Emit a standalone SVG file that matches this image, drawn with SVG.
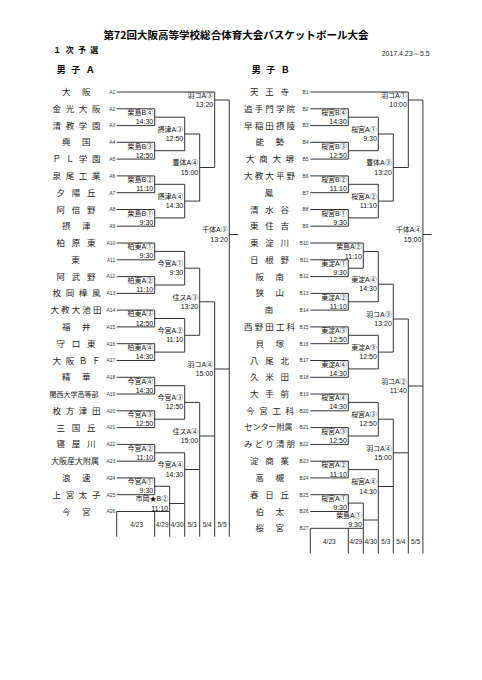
<svg xmlns="http://www.w3.org/2000/svg" width="482" height="680" viewBox="0 0 482 680">
<style>
.bg{fill:#fff}
.ln{fill:none;stroke:#333;stroke-width:1}
.tl{font-family:"Noto Sans CJK JP",sans-serif;font-weight:bold;fill:#000}
.nm{font-family:"Noto Sans CJK JP",sans-serif;font-size:8.5px;fill:#222}
.nmc{font-family:"Noto Sans CJK JP",sans-serif;font-size:8.5px;fill:#222;text-anchor:middle}
.no{font-family:"Liberation Sans",sans-serif;font-size:5px;fill:#333;text-anchor:end}
.lb{font-family:"Liberation Sans","Noto Sans CJK JP",sans-serif;font-size:7px;fill:#111;text-anchor:end}
.dt{font-family:"Liberation Sans",sans-serif;font-size:6.5px;fill:#222;text-anchor:middle}
.sm{font-family:"Liberation Sans",sans-serif;font-size:6.5px;fill:#222}
</style>
<rect class="bg" x="0" y="0" width="482" height="680"/>
<g id="header">
<text class="tl" x="236" y="38.8" style="font-size:10.5px" text-anchor="middle" textLength="265" lengthAdjust="spacingAndGlyphs">第72回大阪高等学校総合体育大会バスケットボール大会</text>
<text class="tl" x="53.3" y="53" style="font-size:8px" textLength="45" lengthAdjust="spacing">１次予選</text>
<text class="sm" x="381.7" y="55.6" textLength="48" lengthAdjust="spacingAndGlyphs">2017.4.23～5.5</text>
<text class="tl" x="56.7" y="73.2" style="font-size:9px" textLength="38" lengthAdjust="spacing">男子Ａ</text>
<text class="tl" x="251.7" y="73.2" style="font-size:9px" textLength="38" lengthAdjust="spacing">男子Ｂ</text>
</g>
<g id="connectors">
<path class="ln" d="M116.7 92 H214.7 M116.7 108.8 H154.7 M116.7 125.6 H154.7 M116.7 142.3 H154.7 M116.7 159.1 H154.7 M116.7 175.9 H154.7 M116.7 192.7 H154.7 M116.7 209.5 H154.7 M116.7 226.2 H154.7 M116.7 243 H154.7 M116.7 259.8 H154.7 M116.7 276.6 H154.7 M116.7 293.4 H154.7 M116.7 310.1 H154.7 M116.7 326.9 H154.7 M116.7 343.7 H154.7 M116.7 360.5 H154.7 M116.7 377.3 H154.7 M116.7 394 H154.7 M116.7 410.8 H154.7 M116.7 427.6 H154.7 M116.7 444.4 H154.7 M116.7 461.2 H154.7 M116.7 477.9 H154.7 M116.7 494.7 H154.7 M116.7 511.5 H169.7"/>
<path class="ln" d="M154.7 108.8 V125.6 M154.7 117.2 H184.7 M154.7 142.3 V159.1 M154.7 150.7 H184.7 M154.7 175.9 V192.7 M154.7 184.3 H184.7 M154.7 209.5 V226.2 M154.7 217.9 H184.7 M154.7 243 V259.8 M154.7 251.4 H184.7 M154.7 276.6 V293.4 M154.7 285 H184.7 M154.7 310.1 V326.9 M154.7 318.5 H184.7 M154.7 343.7 V360.5 M154.7 352.1 H184.7 M154.7 377.3 V394 M154.7 385.7 H184.7 M154.7 410.8 V427.6 M154.7 419.2 H184.7 M154.7 444.4 V461.2 M154.7 452.8 H184.7 M154.7 477.9 V494.7 M154.7 486.3 H169.7"/>
<path class="ln" d="M169.7 486.3 V511.5 M169.7 503.5 H184.7"/>
<path class="ln" d="M184.7 117.2 V150.7 M184.7 134 H199.7 M184.7 184.3 V217.9 M184.7 201.1 H199.7 M184.7 251.4 V285 M184.7 268.2 H199.7 M184.7 318.5 V352.1 M184.7 335.3 H199.7 M184.7 385.7 V419.2 M184.7 402.4 H199.7 M184.7 452.8 V503.5 M184.7 469.5 H199.7"/>
<path class="ln" d="M199.7 134 V201.1 M199.7 167.5 H214.7 M199.7 268.2 V335.3 M199.7 301.8 H214.7 M199.7 402.4 V469.5 M199.7 436 H214.7"/>
<path class="ln" d="M214.7 92 V167.5 M214.7 100 H229.3 M214.7 301.8 V436 M214.7 369 H229.3"/>
<path class="ln" d="M229.3 100 V369 M229.3 234.5 H238"/>
<path class="ln" d="M116.7 511.5 V536.7 M154.7 511.5 V536.7 M169.7 511.5 V536.7 M184.7 503.5 V536.7 M199.7 469.5 V536.7 M214.7 436 V536.7 M229.3 369 V536.7"/>
<path class="ln" d="M310.3 92 H408.3 M310.3 108.8 H348.3 M310.3 125.6 H348.3 M310.3 142.3 H348.3 M310.3 159.1 H348.3 M310.3 175.9 H348.3 M310.3 192.7 H348.3 M310.3 209.5 H348.3 M310.3 226.2 H348.3 M310.3 243 H363.3 M310.3 259.8 H348.3 M310.3 276.6 H348.3 M310.3 293.4 H348.3 M310.3 310.1 H348.3 M310.3 326.9 H348.3 M310.3 343.7 H348.3 M310.3 360.5 H348.3 M310.3 377.3 H348.3 M310.3 394 H348.3 M310.3 410.8 H348.3 M310.3 427.6 H348.3 M310.3 444.4 H348.3 M310.3 461.2 H348.3 M310.3 477.9 H348.3 M310.3 494.7 H348.3 M310.3 511.5 H348.3 M310.3 528.3 H363.3"/>
<path class="ln" d="M348.3 108.8 V125.6 M348.3 117.2 H378.3 M348.3 142.3 V159.1 M348.3 150.7 H378.3 M348.3 175.9 V192.7 M348.3 184.3 H378.3 M348.3 209.5 V226.2 M348.3 217.9 H378.3 M348.3 259.8 V276.6 M348.3 268.2 H363.3 M348.3 293.4 V310.1 M348.3 301.8 H378.3 M348.3 326.9 V343.7 M348.3 335.3 H378.3 M348.3 360.5 V377.3 M348.3 368.9 H378.3 M348.3 394 V410.8 M348.3 402.4 H378.3 M348.3 427.6 V444.4 M348.3 436 H378.3 M348.3 461.2 V477.9 M348.3 469.6 H378.3 M348.3 494.7 V511.5 M348.3 503.1 H363.3"/>
<path class="ln" d="M363.3 243 V268.2 M363.3 251.5 H378.3 M363.3 503.1 V528.3 M363.3 520 H378.3"/>
<path class="ln" d="M378.3 117.2 V150.7 M378.3 134 H393.3 M378.3 184.3 V217.9 M378.3 201.1 H393.3 M378.3 251.5 V301.8 M378.3 284.2 H393.3 M378.3 335.3 V368.9 M378.3 352.1 H393.3 M378.3 402.4 V436 M378.3 419.2 H393.3 M378.3 469.6 V520 M378.3 486.5 H393.3"/>
<path class="ln" d="M393.3 134 V201.1 M393.3 167.5 H408.3 M393.3 284.2 V352.1 M393.3 319 H408.3 M393.3 419.2 V486.5 M393.3 452.8 H408.3"/>
<path class="ln" d="M408.3 92 V167.5 M408.3 100 H422.9 M408.3 319 V452.8 M408.3 386 H422.9"/>
<path class="ln" d="M422.9 100 V386 M422.9 234.5 H431.7"/>
<path class="ln" d="M310.3 528.3 V553.5 M348.3 528.3 V553.5 M363.3 528.3 V553.5 M378.3 520 V553.5 M393.3 486.5 V553.5 M408.3 452.8 V553.5 M422.9 386 V553.5"/>
</g>
<g id="dates">
<text class="dt" x="136.7" y="526.6">4/23</text>
<text class="dt" x="162.2" y="526.6">4/29</text>
<text class="dt" x="177.2" y="526.6">4/30</text>
<text class="dt" x="192.2" y="526.6">5/3</text>
<text class="dt" x="207.2" y="526.6">5/4</text>
<text class="dt" x="222" y="526.6">5/5</text>
<text class="dt" x="329.3" y="543.8">4/23</text>
<text class="dt" x="355.8" y="543.8">4/29</text>
<text class="dt" x="370.8" y="543.8">4/30</text>
<text class="dt" x="385.8" y="543.8">5/3</text>
<text class="dt" x="400.8" y="543.8">5/4</text>
<text class="dt" x="415.6" y="543.8">5/5</text>
</g>
<g id="A1"><text class="no" x="115.3" y="93.8">A1</text><text class="nm" x="62" y="95" textLength="28.5" lengthAdjust="spacing">大阪</text></g>
<g id="A2"><text class="no" x="115.3" y="110.6">A2</text><text class="nm" x="52.5" y="111.8" textLength="48" lengthAdjust="spacing">金光大阪</text></g>
<g id="A3"><text class="no" x="115.3" y="127.4">A3</text><text class="nm" x="52.5" y="128.6" textLength="48" lengthAdjust="spacing">清教学園</text></g>
<g id="A4"><text class="no" x="115.3" y="144.1">A4</text><text class="nm" x="62" y="145.3" textLength="28.5" lengthAdjust="spacing">興国</text></g>
<g id="A5"><text class="no" x="115.3" y="160.9">A5</text><text class="nm" x="52.5" y="162.1" textLength="48" lengthAdjust="spacing">ＰＬ学園</text></g>
<g id="A6"><text class="no" x="115.3" y="177.7">A6</text><text class="nm" x="52.5" y="178.9" textLength="48" lengthAdjust="spacing">泉尾工業</text></g>
<g id="A7"><text class="no" x="115.3" y="194.5">A7</text><text class="nm" x="56.5" y="195.7" textLength="39" lengthAdjust="spacing">夕陽丘</text></g>
<g id="A8"><text class="no" x="115.3" y="211.3">A8</text><text class="nm" x="56.5" y="212.5" textLength="39" lengthAdjust="spacing">阿倍野</text></g>
<g id="A9"><text class="no" x="115.3" y="228">A9</text><text class="nm" x="62" y="229.2" textLength="28.5" lengthAdjust="spacing">摂津</text></g>
<g id="A10"><text class="no" x="115.3" y="244.8">A10</text><text class="nm" x="56.5" y="246" textLength="39" lengthAdjust="spacing">柏原東</text></g>
<g id="A11"><text class="no" x="115.3" y="261.6">A11</text><text class="nmc" x="75.5" y="262.8">東</text></g>
<g id="A12"><text class="no" x="115.3" y="278.4">A12</text><text class="nm" x="56.5" y="279.6" textLength="39" lengthAdjust="spacing">阿武野</text></g>
<g id="A13"><text class="no" x="115.3" y="295.2">A13</text><text class="nm" x="52.5" y="296.4" textLength="48" lengthAdjust="spacing">枚岡樟風</text></g>
<g id="A14"><text class="no" x="115.3" y="311.9">A14</text><text class="nm" x="50.5" y="313.1" textLength="51" lengthAdjust="spacing">大教大池田</text></g>
<g id="A15"><text class="no" x="115.3" y="328.7">A15</text><text class="nm" x="62" y="329.9" textLength="28.5" lengthAdjust="spacing">福井</text></g>
<g id="A16"><text class="no" x="115.3" y="345.5">A16</text><text class="nm" x="56.5" y="346.7" textLength="39" lengthAdjust="spacing">守口東</text></g>
<g id="A17"><text class="no" x="115.3" y="362.3">A17</text><text class="nm" x="52.5" y="363.5" textLength="48" lengthAdjust="spacing">大阪ＢＦ</text></g>
<g id="A18"><text class="no" x="115.3" y="379.1">A18</text><text class="nm" x="62" y="380.3" textLength="28.5" lengthAdjust="spacing">精華</text></g>
<g id="A19"><text class="no" x="115.3" y="395.8">A19</text><text class="nm" x="49.5" y="396.6" style="font-size:7px" textLength="49" lengthAdjust="spacingAndGlyphs">関西大学高等部</text></g>
<g id="A20"><text class="no" x="115.3" y="412.6">A20</text><text class="nm" x="52.5" y="413.8" textLength="48" lengthAdjust="spacing">枚方津田</text></g>
<g id="A21"><text class="no" x="115.3" y="429.4">A21</text><text class="nm" x="56.5" y="430.6" textLength="39" lengthAdjust="spacing">三国丘</text></g>
<g id="A22"><text class="no" x="115.3" y="446.2">A22</text><text class="nm" x="56.5" y="447.4" textLength="39" lengthAdjust="spacing">寝屋川</text></g>
<g id="A23"><text class="no" x="115.3" y="463">A23</text><text class="nm" x="51" y="464" style="font-size:8px" textLength="48" lengthAdjust="spacingAndGlyphs">大阪産大附属</text></g>
<g id="A24"><text class="no" x="115.3" y="479.7">A24</text><text class="nm" x="62" y="480.9" textLength="28.5" lengthAdjust="spacing">浪速</text></g>
<g id="A25"><text class="no" x="115.3" y="496.5">A25</text><text class="nm" x="52.5" y="497.7" textLength="48" lengthAdjust="spacing">上宮太子</text></g>
<g id="A26"><text class="no" x="115.3" y="513.3">A26</text><text class="nm" x="62" y="514.5" textLength="28.5" lengthAdjust="spacing">今宮</text></g>
<g id="B1"><text class="no" x="308.5" y="93.8">B1</text><text class="nm" x="250.1" y="95" textLength="39" lengthAdjust="spacing">天王寺</text></g>
<g id="B2"><text class="no" x="308.5" y="110.6">B2</text><text class="nm" x="244.1" y="111.8" textLength="51" lengthAdjust="spacing">追手門学院</text></g>
<g id="B3"><text class="no" x="308.5" y="127.4">B3</text><text class="nm" x="244.1" y="128.6" textLength="51" lengthAdjust="spacing">早稲田摂陵</text></g>
<g id="B4"><text class="no" x="308.5" y="144.1">B4</text><text class="nm" x="255.6" y="145.3" textLength="28.5" lengthAdjust="spacing">能勢</text></g>
<g id="B5"><text class="no" x="308.5" y="160.9">B5</text><text class="nm" x="246.1" y="162.1" textLength="48" lengthAdjust="spacing">大商大堺</text></g>
<g id="B6"><text class="no" x="308.5" y="177.7">B6</text><text class="nm" x="244.1" y="178.9" textLength="51" lengthAdjust="spacing">大教大平野</text></g>
<g id="B7"><text class="no" x="308.5" y="194.5">B7</text><text class="nmc" x="269.1" y="195.7">鳳</text></g>
<g id="B8"><text class="no" x="308.5" y="211.3">B8</text><text class="nm" x="250.1" y="212.5" textLength="39" lengthAdjust="spacing">清水谷</text></g>
<g id="B9"><text class="no" x="308.5" y="228">B9</text><text class="nm" x="250.1" y="229.2" textLength="39" lengthAdjust="spacing">東住吉</text></g>
<g id="B10"><text class="no" x="308.5" y="244.8">B10</text><text class="nm" x="250.1" y="246" textLength="39" lengthAdjust="spacing">東淀川</text></g>
<g id="B11"><text class="no" x="308.5" y="261.6">B11</text><text class="nm" x="250.1" y="262.8" textLength="39" lengthAdjust="spacing">日根野</text></g>
<g id="B12"><text class="no" x="308.5" y="278.4">B12</text><text class="nm" x="255.6" y="279.6" textLength="28.5" lengthAdjust="spacing">阪南</text></g>
<g id="B13"><text class="no" x="308.5" y="295.2">B13</text><text class="nm" x="255.6" y="296.4" textLength="28.5" lengthAdjust="spacing">狭山</text></g>
<g id="B14"><text class="no" x="308.5" y="311.9">B14</text><text class="nmc" x="269.1" y="313.1">南</text></g>
<g id="B15"><text class="no" x="308.5" y="328.7">B15</text><text class="nm" x="244.1" y="329.9" textLength="51" lengthAdjust="spacing">西野田工科</text></g>
<g id="B16"><text class="no" x="308.5" y="345.5">B16</text><text class="nm" x="255.6" y="346.7" textLength="28.5" lengthAdjust="spacing">貝塚</text></g>
<g id="B17"><text class="no" x="308.5" y="362.3">B17</text><text class="nm" x="250.1" y="363.5" textLength="39" lengthAdjust="spacing">八尾北</text></g>
<g id="B18"><text class="no" x="308.5" y="379.1">B18</text><text class="nm" x="250.1" y="380.3" textLength="39" lengthAdjust="spacing">久米田</text></g>
<g id="B19"><text class="no" x="308.5" y="395.8">B19</text><text class="nm" x="250.1" y="397" textLength="39" lengthAdjust="spacing">大手前</text></g>
<g id="B20"><text class="no" x="308.5" y="412.6">B20</text><text class="nm" x="246.1" y="413.8" textLength="48" lengthAdjust="spacing">今宮工科</text></g>
<g id="B21"><text class="no" x="308.5" y="429.4">B21</text><text class="nm" x="244.6" y="430.4" style="font-size:8px" textLength="48" lengthAdjust="spacingAndGlyphs">センター附属</text></g>
<g id="B22"><text class="no" x="308.5" y="446.2">B22</text><text class="nm" x="244.1" y="447.4" textLength="51" lengthAdjust="spacing">みどり清朋</text></g>
<g id="B23"><text class="no" x="308.5" y="463">B23</text><text class="nm" x="250.1" y="464.2" textLength="39" lengthAdjust="spacing">淀商業</text></g>
<g id="B24"><text class="no" x="308.5" y="479.7">B24</text><text class="nm" x="255.6" y="480.9" textLength="28.5" lengthAdjust="spacing">高槻</text></g>
<g id="B25"><text class="no" x="308.5" y="496.5">B25</text><text class="nm" x="250.1" y="497.7" textLength="39" lengthAdjust="spacing">春日丘</text></g>
<g id="B26"><text class="no" x="308.5" y="513.3">B26</text><text class="nm" x="255.6" y="514.5" textLength="28.5" lengthAdjust="spacing">伯太</text></g>
<g id="B27"><text class="no" x="308.5" y="530.1">B27</text><text class="nm" x="255.6" y="531.3" textLength="28.5" lengthAdjust="spacing">桜宮</text></g>
<g id="LA2A3"><text class="lb" x="153.2" y="115">柴島B④</text><text class="lb" x="153.2" y="124.2">14:30</text></g>
<g id="LA4A5"><text class="lb" x="153.2" y="148.5">柴島B③</text><text class="lb" x="153.2" y="157.7">12:50</text></g>
<g id="LA6A7"><text class="lb" x="153.2" y="182.1">柴島B②</text><text class="lb" x="153.2" y="191.3">11:10</text></g>
<g id="LA8A9"><text class="lb" x="153.2" y="215.7">柴島B①</text><text class="lb" x="153.2" y="224.9">9:30</text></g>
<g id="LA10A11"><text class="lb" x="153.2" y="249.2">柏東A①</text><text class="lb" x="153.2" y="258.4">9:30</text></g>
<g id="LA12A13"><text class="lb" x="153.2" y="282.8">柏東A②</text><text class="lb" x="153.2" y="292">11:10</text></g>
<g id="LA14A15"><text class="lb" x="153.2" y="316.3">柏東A③</text><text class="lb" x="153.2" y="325.5">12:50</text></g>
<g id="LA16A17"><text class="lb" x="153.2" y="349.9">柏東A④</text><text class="lb" x="153.2" y="359.1">14:30</text></g>
<g id="LA18A19"><text class="lb" x="153.2" y="383.5">今宮A④</text><text class="lb" x="153.2" y="392.7">14:30</text></g>
<g id="LA20A21"><text class="lb" x="153.2" y="417">今宮A③</text><text class="lb" x="153.2" y="426.2">12:50</text></g>
<g id="LA22A23"><text class="lb" x="153.2" y="450.6">今宮A②</text><text class="lb" x="153.2" y="459.8">11:10</text></g>
<g id="LA24A25"><text class="lb" x="153.2" y="484.1">今宮A①</text><text class="lb" x="153.2" y="493.3">9:30</text></g>
<g id="LA26"><text class="lb" x="168.2" y="501.3">市岡★B②</text><text class="lb" x="168.2" y="510.5">11:10</text></g>
<g id="LQ1"><text class="lb" x="183.2" y="131.8">摂津A③</text><text class="lb" x="183.2" y="141">12:50</text></g>
<g id="LQ2"><text class="lb" x="183.2" y="198.9">摂津A④</text><text class="lb" x="183.2" y="208.1">14:30</text></g>
<g id="LQ3"><text class="lb" x="183.2" y="266">今宮A①</text><text class="lb" x="183.2" y="275.2">9:30</text></g>
<g id="LQ4"><text class="lb" x="183.2" y="333.1">今宮A②</text><text class="lb" x="183.2" y="342.3">11:10</text></g>
<g id="LQ5"><text class="lb" x="183.2" y="400.2">今宮A③</text><text class="lb" x="183.2" y="409.4">12:50</text></g>
<g id="LQ6"><text class="lb" x="183.2" y="467.3">今宮A④</text><text class="lb" x="183.2" y="476.5">14:30</text></g>
<g id="LS1"><text class="lb" x="198.2" y="165.3">豊体A④</text><text class="lb" x="198.2" y="174.5">15:00</text></g>
<g id="LS2"><text class="lb" x="198.2" y="299.6">住スA③</text><text class="lb" x="198.2" y="308.8">13:20</text></g>
<g id="LS3"><text class="lb" x="198.2" y="433.8">住スA④</text><text class="lb" x="198.2" y="443">15:00</text></g>
<g id="LF1"><text class="lb" x="213.2" y="97.8">羽コA③</text><text class="lb" x="213.2" y="107">13:20</text></g>
<g id="LF2"><text class="lb" x="213.2" y="366.8">羽コA④</text><text class="lb" x="213.2" y="376">15:00</text></g>
<g id="LW"><text class="lb" x="227.8" y="232.3">千体A③</text><text class="lb" x="227.8" y="241.5">13:20</text></g>
<g id="RB2B3"><text class="lb" x="346.8" y="115">桜宮B④</text><text class="lb" x="346.8" y="124.2">14:30</text></g>
<g id="RB4B5"><text class="lb" x="346.8" y="148.5">桜宮B③</text><text class="lb" x="346.8" y="157.7">12:50</text></g>
<g id="RB6B7"><text class="lb" x="346.8" y="182.1">桜宮B②</text><text class="lb" x="346.8" y="191.3">11:10</text></g>
<g id="RB8B9"><text class="lb" x="346.8" y="215.7">桜宮B①</text><text class="lb" x="346.8" y="224.9">9:30</text></g>
<g id="RB11B12"><text class="lb" x="346.8" y="266">東淀A①</text><text class="lb" x="346.8" y="275.2">9:30</text></g>
<g id="RB13B14"><text class="lb" x="346.8" y="299.6">東淀A②</text><text class="lb" x="346.8" y="308.8">11:10</text></g>
<g id="RB15B16"><text class="lb" x="346.8" y="333.1">東淀A③</text><text class="lb" x="346.8" y="342.3">12:50</text></g>
<g id="RB17B18"><text class="lb" x="346.8" y="366.7">東淀A④</text><text class="lb" x="346.8" y="375.9">14:30</text></g>
<g id="RB19B20"><text class="lb" x="346.8" y="400.2">桜宮A④</text><text class="lb" x="346.8" y="409.4">14:30</text></g>
<g id="RB21B22"><text class="lb" x="346.8" y="433.8">桜宮A③</text><text class="lb" x="346.8" y="443">12:50</text></g>
<g id="RB23B24"><text class="lb" x="346.8" y="467.4">桜宮A②</text><text class="lb" x="346.8" y="476.6">11:10</text></g>
<g id="RB25B26"><text class="lb" x="346.8" y="500.9">桜宮A①</text><text class="lb" x="346.8" y="510.1">9:30</text></g>
<g id="RB10"><text class="lb" x="361.8" y="249.3">柴島A②</text><text class="lb" x="361.8" y="258.5">11:10</text></g>
<g id="RB27"><text class="lb" x="361.8" y="517.8">柴島A①</text><text class="lb" x="361.8" y="527">9:30</text></g>
<g id="RQ1"><text class="lb" x="376.8" y="131.8">桜宮A①</text><text class="lb" x="376.8" y="141">9:30</text></g>
<g id="RQ2"><text class="lb" x="376.8" y="198.9">桜宮A②</text><text class="lb" x="376.8" y="208.1">11:10</text></g>
<g id="RQ3"><text class="lb" x="376.8" y="282">東淀A④</text><text class="lb" x="376.8" y="291.2">14:30</text></g>
<g id="RQ4"><text class="lb" x="376.8" y="349.9">東淀A③</text><text class="lb" x="376.8" y="359.1">12:50</text></g>
<g id="RQ5"><text class="lb" x="376.8" y="417">桜宮A③</text><text class="lb" x="376.8" y="426.2">12:50</text></g>
<g id="RQ6"><text class="lb" x="376.8" y="484.3">桜宮A④</text><text class="lb" x="376.8" y="493.5">14:30</text></g>
<g id="RS1"><text class="lb" x="391.8" y="165.3">豊体A③</text><text class="lb" x="391.8" y="174.5">13:20</text></g>
<g id="RS2"><text class="lb" x="391.8" y="316.8">羽コA③</text><text class="lb" x="391.8" y="326">13:20</text></g>
<g id="RS3"><text class="lb" x="391.8" y="450.6">羽コA④</text><text class="lb" x="391.8" y="459.8">15:00</text></g>
<g id="RF1"><text class="lb" x="406.8" y="97.8">羽コA①</text><text class="lb" x="406.8" y="107">10:00</text></g>
<g id="RF2"><text class="lb" x="406.8" y="383.8">羽コA②</text><text class="lb" x="406.8" y="393">11:40</text></g>
<g id="RW"><text class="lb" x="421.4" y="232.3">千体A④</text><text class="lb" x="421.4" y="241.5">15:00</text></g>
</svg>
